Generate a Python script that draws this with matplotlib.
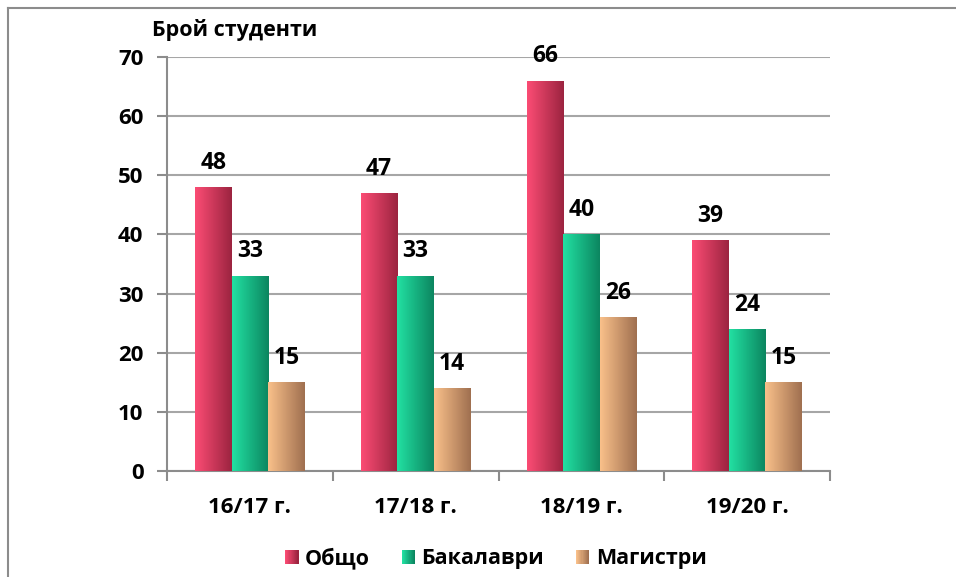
import numpy as np
import matplotlib
matplotlib.use("Agg")
import matplotlib.pyplot as plt
from matplotlib.patches import Rectangle
from matplotlib.lines import Line2D
from matplotlib.legend_handler import HandlerBase
from matplotlib.colors import LinearSegmentedColormap

plt.rcParams['font.family'] = ['Open Sans', 'DejaVu Sans']
plt.rcParams['font.weight'] = 'bold'

categories = ["16/17 г.", "17/18 г.", "18/19 г.", "19/20 г."]
series_names = ["Общо", "Бакалаври", "Магистри"]
obshto = [48, 47, 66, 39]
bakalavri = [33, 33, 40, 24]
magistri = [15, 14, 26, 15]
series_values = [obshto, bakalavri, magistri]
yticks = [0, 10, 20, 30, 40, 50, 60, 70]

grad_colors = [("#FB4C74", "#9C2440"), ("#22E0A2", "#0C8660"), ("#F9C08A", "#A07050")]

W, H = 956, 577
fig = plt.figure(figsize=(W / 100, H / 100), dpi=100)
ax = fig.add_axes([167 / W, 1 - 471 / H, (830 - 167) / W, (471 - 57) / H])

x = np.arange(len(categories))
bw = 0.22
grad = np.linspace(0, 1, 64).reshape(1, -1)

for i, (vals, name, (c0, c1)) in enumerate(zip(series_values, series_names, grad_colors)):
    cmap = LinearSegmentedColormap.from_list(name, [c0, c1])
    pos = x + (i - 1) * bw
    bars = ax.bar(pos, vals, width=bw, color=c0, label=name, zorder=2)
    for b, v in zip(bars, vals):
        bx, by = b.get_x(), b.get_y()
        bwid, bh = b.get_width(), b.get_height()
        im = ax.imshow(grad, cmap=cmap, extent=[bx, bx + bwid, by, by + bh],
                       aspect='auto', zorder=3)
        im.set_clip_path(b)
        b.set_alpha(0)
        ax.annotate(str(v), (bx + bwid / 2, by + bh), xytext=(0, 9),
                    textcoords='offset points', ha='center', va='bottom',
                    fontsize=16.5, fontweight='bold', zorder=4)

ax.set_xlim(-0.5, len(categories) - 0.5)
ax.set_ylim(0, 70)
ax.set_yticks(yticks)
ax.set_yticklabels([str(t) for t in yticks], fontsize=16, fontweight='bold')
ax.set_xticks(x)
ax.set_xticklabels(categories, fontsize=16, fontweight='bold')
ax.set_xticks(np.arange(len(categories) + 1) - 0.5, minor=True)
ax.tick_params(axis='x', which='major', length=0, pad=19)
ax.tick_params(axis='x', which='minor', length=7, width=1.5, color='#8C8C8C', direction='out')
ax.tick_params(axis='y', length=7, width=1.5, color='#8C8C8C', pad=10)
ax.grid(axis='y', color='#A6A6A6', linewidth=1.5, zorder=0)
ax.set_axisbelow(True)
for s in ['top', 'right']:
    ax.spines[s].set_visible(False)
for s in ['left', 'bottom']:
    ax.spines[s].set_color('#8C8C8C')
    ax.spines[s].set_linewidth(1.5)

fig.text(152 / W, 1 - 30 / H, "Брой студенти", fontsize=15.5, fontweight='bold',
         ha='left', va='center')


class GradHandler(HandlerBase):
    def __init__(self, c0, c1):
        super().__init__()
        self.cmap = LinearSegmentedColormap.from_list("g", [c0, c1])

    def create_artists(self, legend, orig_handle, xdescent, ydescent, width, height, fontsize, trans):
        n = 12
        side = height * 0.9
        x0 = -xdescent + width - side
        arts = []
        for k in range(n):
            r = Rectangle((x0 + side * k / n, -ydescent), side / n * 1.05, side,
                          facecolor=self.cmap(k / (n - 1)), edgecolor='none', transform=trans)
            arts.append(r)
        return arts


handles = [Rectangle((0, 0), 1, 1) for _ in series_names]
hmap = {h: GradHandler(c0, c1) for h, (c0, c1) in zip(handles, grad_colors)}
fig.legend(handles, series_names, handler_map=hmap, loc='center',
           bbox_to_anchor=(495 / W, 1 - 558 / H), ncol=3, frameon=False,
           prop={'size': 15.5, 'weight': 'bold'}, handlelength=0.7, handletextpad=0.3,
           columnspacing=1.4)

# outer border (left and top)
fig.add_artist(Line2D([8 / W, 8 / W], [0, 1 - 8 / H], transform=fig.transFigure,
                      color='#8C8C8C', linewidth=1.5))
fig.add_artist(Line2D([8 / W, 1], [1 - 8 / H, 1 - 8 / H], transform=fig.transFigure,
                      color='#8C8C8C', linewidth=1.5))

fig.savefig("out.png", dpi=100)
